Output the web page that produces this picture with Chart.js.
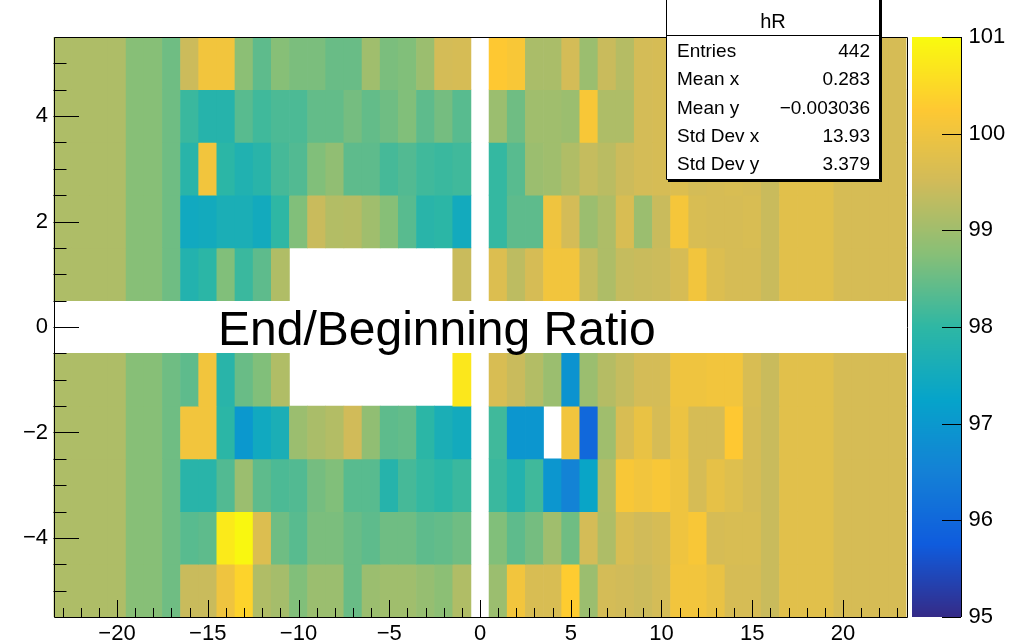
<!DOCTYPE html>
<html>
<head>
<meta charset="utf-8">
<script src="https://cdn.jsdelivr.net/npm/chart.js@4.4.1/dist/chart.umd.min.js"></script>
<style>
  html, body { margin: 0; padding: 0; background: #fff; }
  canvas { display: block; }
</style>
</head>
<body>
<canvas id="hR" width="1026" height="644"></canvas>
<script>
// bin centres along x, and the filled rows along y (row 0 is empty)
const xBins = [-23,-22,-21,-20,-19,-18,-17,-16,-15,-14,-13,-12,-11,-10,-9,-8,-7,-6,-5,-4,-3,-2,-1,
               0,1,2,3,4,5,6,7,8,9,10,11,12,13,14,15,16,17,18,19,20,21,22,23];
const yRows = [5, 4, 3, 2, 1, -1, -2, -3, -4, -5];

// bin contents, one array per row, x = -23 .. 23 (null = empty bin)
// groups: [-23..-17] [-16..-1] [0] [1..10] [11..19] [20..23]
const row5  = [99.15,99.15,99.15,99.15,98.75,98.75,98.55,
               99.45,100.05,100.05,98.8,98.4,98.75,98.65,98.65,98.5,98.5,99.0,98.65,98.7,98.95,99.55,99.58,
               null,
               100.25,100.15,99.1,99.1,99.55,98.95,99.42,99.22,99.55,99.58,
               99.58,99.62,99.58,99.58,99.62,99.42,99.77,99.77,99.77,
               99.58,99.58,99.58,99.58];
const row4  = [99.15,99.15,99.15,99.15,98.75,98.75,98.55,
               98.1,97.85,97.85,98.35,98.15,98.25,98.25,98.45,98.45,98.6,98.45,98.55,98.7,98.4,98.6,98.35,
               null,
               98.95,98.55,99.0,99.0,98.95,100.15,99.15,99.15,99.55,99.58,
               99.62,99.58,99.58,99.62,99.58,99.42,99.77,99.77,99.77,
               99.58,99.58,99.58,99.58];
const row3  = [99.15,99.15,99.15,99.15,98.75,98.75,98.55,
               97.9,100.05,97.95,97.75,97.9,98.2,98.3,98.7,98.85,98.4,98.4,98.2,98.3,98.15,98.1,98.15,
               null,
               98.05,98.35,98.95,99.0,99.17,99.38,99.27,99.45,99.55,99.58,
               99.68,99.55,99.58,99.62,99.58,99.42,99.77,99.77,99.77,
               99.58,99.58,99.58,99.58];
const row2  = [99.15,99.15,99.15,99.15,98.75,98.75,98.55,
               97.45,97.5,97.65,97.65,97.5,98.0,98.7,99.42,99.2,99.22,99.0,98.75,98.35,97.9,97.95,97.5,
               null,
               98.05,98.4,98.4,100.0,99.55,98.95,99.15,99.62,98.95,99.42,
               100.1,99.62,99.58,99.58,99.62,99.42,99.77,99.77,99.77,
               99.58,99.58,99.58,99.58];
const row1  = [99.15,99.15,99.15,99.15,98.75,98.75,98.55,
               97.8,97.95,98.7,98.1,98.4,99.17,null,null,null,null,null,null,null,null,null,99.42,
               null,
               99.68,99.3,99.58,100.05,100.05,99.38,99.15,99.38,99.42,99.45,
               99.58,100.05,99.68,99.58,99.58,99.42,99.77,99.77,99.77,
               99.58,99.58,99.58,99.58];
const rowM1 = [99.15,99.15,99.15,99.15,98.75,98.75,98.55,
               98.4,100.05,97.9,98.5,98.7,99.17,null,null,null,null,null,null,null,null,null,100.7,
               null,
               99.62,99.42,99.2,98.95,96.9,98.95,99.22,99.38,99.55,99.55,
               100.0,100.0,100.05,100.05,99.62,99.42,99.77,99.77,99.77,
               99.58,99.58,99.58,99.58];
const rowM2 = [99.15,99.15,99.15,99.15,98.75,98.75,98.55,
               100.05,100.05,97.95,97.0,97.45,97.65,98.95,99.1,99.2,99.5,98.85,98.4,98.45,97.95,97.65,97.5,
               null,
               98.15,96.95,96.95,null,100.05,96.0,99.0,99.62,99.9,99.58,
               99.95,99.58,99.58,100.25,99.58,99.42,99.77,99.77,99.77,
               99.58,99.58,99.58,99.58];
const rowM3 = [99.15,99.15,99.15,99.15,98.75,98.75,98.55,
               97.9,97.9,98.3,98.95,98.4,98.25,98.3,98.6,98.7,98.35,98.35,97.85,98.2,98.05,97.95,98.1,
               null,
               98.1,97.8,98.15,96.95,96.55,97.3,99.17,100.15,100.05,100.15,
               100.0,99.58,99.85,99.72,99.58,99.42,99.77,99.77,99.77,
               99.58,99.58,99.58,99.58];
const rowM4 = [99.15,99.15,99.15,99.15,98.75,98.75,98.55,
               98.35,98.4,100.75,100.95,99.68,98.55,98.35,98.65,98.65,98.5,98.4,98.55,98.55,98.4,98.45,98.55,
               null,
               98.7,98.4,98.6,99.0,98.55,99.55,99.15,99.62,99.5,99.58,
               100.0,100.15,99.58,99.62,99.62,99.42,99.77,99.77,99.77,
               99.58,99.58,99.58,99.58];
const rowM5 = [99.15,99.15,99.15,99.15,98.75,98.75,98.55,
               99.42,99.42,100.0,100.4,99.17,99.05,98.7,98.95,98.95,98.5,98.95,99.0,99.0,98.9,98.8,99.17,
               null,
               98.95,100.05,99.62,99.62,100.3,98.95,99.55,99.5,99.45,99.55,
               100.05,100.05,99.9,99.58,99.58,99.42,99.77,99.77,99.77,
               99.58,99.58,99.58,99.58];
const rows = [row5, row4, row3, row2, row1, rowM1, rowM2, rowM3, rowM4, rowM5];

const zMin = 95, zMax = 101;
const xTicks = [-20, -15, -10, -5, 0, 5, 10, 15, 20];
const yTicks = [-4, -2, 0, 2, 4];
const zTicks = [95, 96, 97, 98, 99, 100, 101];

const statsTitle = 'hR';
const statsLabels = ['Entries', 'Mean x', 'Mean y', 'Std Dev x', 'Std Dev y'];
const statsValues = ['442', '0.283', '\u22120.003036', '13.93', '3.379'];
const plotText = 'End/Beginning Ratio';

// ROOT kBird palette
const birdStops = [0.0, 0.125, 0.25, 0.375, 0.5, 0.625, 0.75, 0.875, 1.0];
const birdR = [0.2082, 0.0592, 0.0780, 0.0232, 0.1802, 0.5301, 0.8186, 0.9956, 0.9764];
const birdG = [0.1664, 0.3599, 0.5041, 0.6419, 0.7178, 0.7492, 0.7328, 0.7862, 0.9832];
const birdB = [0.5293, 0.8684, 0.8385, 0.7914, 0.6425, 0.4662, 0.3499, 0.1968, 0.0539];

function bird(v) {
  let t = (v - zMin) / (zMax - zMin);
  t = Math.max(0, Math.min(1, t));
  let k = 0;
  while (k < birdStops.length - 2 && t > birdStops[k + 1]) k++;
  const f = (t - birdStops[k]) / (birdStops[k + 1] - birdStops[k]);
  const c = a => Math.round(255 * (a[k] + f * (a[k + 1] - a[k])));
  return 'rgb(' + c(birdR) + ',' + c(birdG) + ',' + c(birdB) + ')';
}

const minus = v => (v < 0 ? '\u2212' + Math.abs(v) : String(v));

const datasets = rows.map((vals, r) => {
  const pts = [], cols = [];
  vals.forEach((v, i) => {
    if (v === null) return;
    pts.push({ x: xBins[i], y: [yRows[r] - 0.5, yRows[r] + 0.5] });
    cols.push(bird(v));
  });
  return {
    data: pts,
    backgroundColor: cols,
    borderWidth: 0,
    barPercentage: 1,
    categoryPercentage: 1,
    grouped: false
  };
});

const FONT = "'Liberation Sans', Arial, Helvetica, sans-serif";
Chart.defaults.font.family = FONT;
Chart.defaults.color = '#000';

const rootDecor = {
  id: 'rootDecor',
  afterDraw(chart) {
    const ctx = chart.ctx;
    const a = chart.chartArea;
    const xs = chart.scales.x, ys = chart.scales.y, zs = chart.scales.z;
    ctx.save();

    // palette box
    const pL = 912, pR = 961;
    for (let py = Math.floor(a.top); py < a.bottom; py++) {
      ctx.fillStyle = bird(zs.getValueForPixel(py + 0.5));
      ctx.fillRect(pL, py, pR - pL, 1);
    }
    ctx.strokeStyle = '#000';
    ctx.lineWidth = 1;
    ctx.beginPath();
    ctx.moveTo(pR + 0.5, a.top); ctx.lineTo(pR + 0.5, a.bottom);
    zTicks.forEach(v => {
      const py = Math.round(zs.getPixelForValue(v)) + 0.5;
      ctx.moveTo(pR, py); ctx.lineTo(pR - 19, py);
    });
    ctx.stroke();

    // frame
    ctx.beginPath();
    ctx.rect(Math.round(a.left) + 0.5, Math.round(a.top) + 0.5,
             Math.round(a.right - a.left), Math.round(a.bottom - a.top));
    ctx.stroke();

    // inner ticks on x
    ctx.beginPath();
    for (let v = -23; v <= 23; v++) {
      const px = Math.round(xs.getPixelForValue(v)) + 0.5;
      const len = v % 5 === 0 ? 17 : 9;
      ctx.moveTo(px, a.bottom); ctx.lineTo(px, a.bottom - len);
    }
    // inner ticks on y
    for (let v = -5; v <= 5; v += 0.5) {
      const py = Math.round(ys.getPixelForValue(v)) + 0.5;
      const len = v % 2 === 0 ? 25.5 : 13;
      ctx.moveTo(a.left, py); ctx.lineTo(a.left + len, py);
    }
    ctx.stroke();

    // text on the empty row
    ctx.fillStyle = '#000';
    ctx.font = '48px ' + FONT;
    ctx.textAlign = 'left';
    ctx.textBaseline = 'alphabetic';
    ctx.fillText(plotText, 218, 345);

    // stats box
    const bL = 666, bR = 880, bT = -2, bB = 180, sep = 35;
    ctx.fillStyle = '#000';
    ctx.fillRect(bL + 2, bT + 2, bR - bL, bB - bT);
    ctx.fillStyle = '#fff';
    ctx.fillRect(bL, bT, bR - bL, bB - bT);
    ctx.beginPath();
    ctx.rect(bL + 0.5, bT + 0.5, bR - bL - 1, bB - bT - 1);
    ctx.moveTo(bL, sep + 0.5); ctx.lineTo(bR, sep + 0.5);
    ctx.stroke();
    ctx.fillStyle = '#000';
    ctx.font = '20px ' + FONT;
    ctx.textAlign = 'center';
    ctx.fillText(statsTitle, (bL + bR) / 2, 28);
    ctx.font = '19px ' + FONT;
    statsLabels.forEach((lab, i) => {
      const by = 57 + i * 28.3;
      ctx.textAlign = 'left';
      ctx.fillText(lab, 677, by);
      ctx.textAlign = 'right';
      ctx.fillText(statsValues[i], 870, by);
    });
    ctx.restore();
  }
};

new Chart(document.getElementById('hR').getContext('2d'), {
  type: 'bar',
  data: { datasets: datasets },
  options: {
    responsive: false,
    animation: false,
    layout: { padding: { top: 37, left: 0, right: 0, bottom: 0 } },
    plugins: { legend: { display: false }, tooltip: { enabled: false } },
    scales: {
      x: {
        type: 'linear', min: -23.5, max: 23.5, offset: false,
        grid: { display: false, drawTicks: false, offset: false },
        border: { display: false },
        afterBuildTicks: s => { s.ticks = xTicks.map(v => ({ value: v })); },
        afterFit: s => { s.height = 27; s.paddingLeft = 0; s.paddingRight = 0; },
        ticks: { padding: 4, font: { size: 22 }, color: '#000', maxRotation: 0, autoSkip: false, callback: minus }
      },
      y: {
        type: 'linear', min: -5.5, max: 5.5,
        grid: { display: false, drawTicks: false },
        border: { display: false },
        afterBuildTicks: s => { s.ticks = yTicks.map(v => ({ value: v })); },
        afterFit: s => { s.width = 53.5; s.paddingTop = 0; s.paddingBottom = 0; },
        ticks: { padding: 5.5, font: { size: 22 }, color: '#000', autoSkip: false, callback: minus }
      },
      z: {
        type: 'linear', axis: 'y', position: 'right', min: zMin, max: zMax,
        grid: { display: false, drawTicks: false },
        border: { display: false },
        afterBuildTicks: s => { s.ticks = zTicks.map(v => ({ value: v })); },
        afterFit: s => { s.width = 119.5; s.paddingTop = 0; s.paddingBottom = 0; },
        ticks: { padding: 62, font: { size: 22 }, color: '#000', autoSkip: false }
      }
    }
  },
  plugins: [rootDecor]
});
</script>
</body>
</html>
